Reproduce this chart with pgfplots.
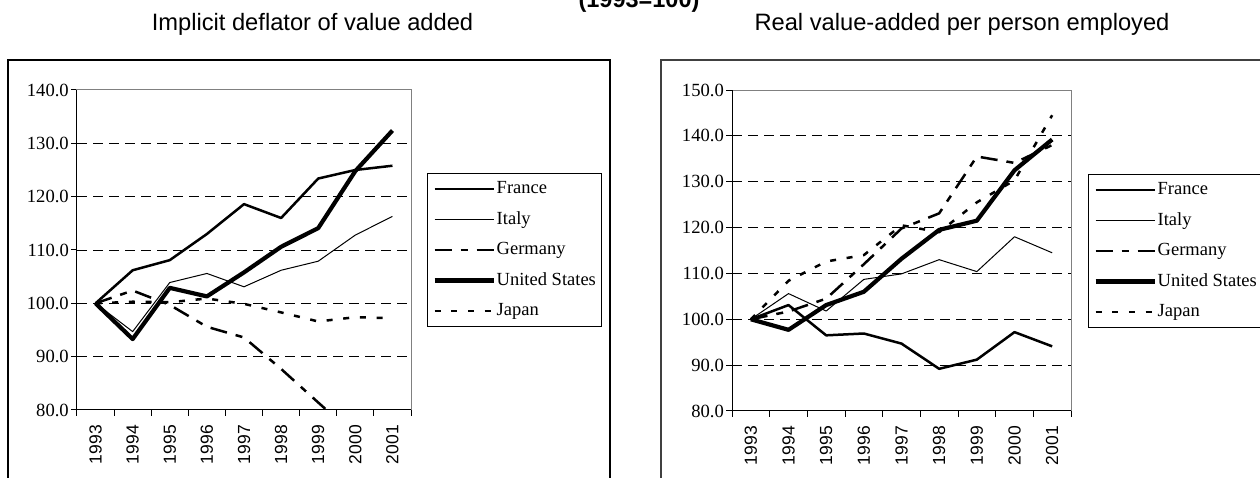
\documentclass[border=0pt]{standalone}
\usepackage{fontspec}
\setmainfont{Liberation Serif}
\newfontfamily\arial{Liberation Sans}
\usepackage{pgfplots}
\usepackage{pgfplotstable}
\pgfplotsset{compat=1.18}

\pgfplotstableread{
x France Italy Germany US Japan
0 100.0 100.0 100.0 100.0 100.0
1 106.2  94.7 102.4  93.3 100.3
2 108.1 103.9  99.7 102.9 100.2
3 113.0 105.6  95.6 101.3 100.9
4 118.6 103.1  93.6 105.8  99.9
5 116.0 106.2  87.7 110.6  98.3
6 123.4 107.9  81.4 114.1  96.6
7 125.0 112.8  75.2 124.8  97.4
8 125.8 116.3  74.0 132.4  97.2
}\leftdata

\pgfplotstableread{
x France Italy Germany US Japan
0 100.0 100.0 100.0 100.0 100.0
1 103.1 105.6 101.7  97.7 108.4
2  96.5 101.8 104.5 103.1 112.6
3  96.9 108.7 112.0 106.0 114.0
4  94.7 109.9 119.8 113.2 120.5
5  89.2 113.0 123.1 119.5 119.0
6  91.2 110.4 135.5 121.5 125.5
7  97.2 118.0 134.1 132.5 130.3
8  94.1 114.5 138.0 139.2 144.5
}\rightdata

\pgfplotsset{
  france/.style={black, line width=2.5pt, solid, line join=round},
  italy/.style={black, line width=1pt, solid, line join=round},
  germany/.style={black, line width=2.5pt, dash pattern=on 17pt off 9pt on 7pt off 9pt, line join=round},
  usa/.style={black, line width=4.2pt, solid, line join=round},
  japan/.style={black, line width=2.5pt, dash pattern=on 6pt off 10.7pt, line join=round},
  mychart/.style={
    scale only axis,
    clip mode=individual,
    xmin=-0.5, xmax=8.5,
    xtick={0,...,8},
    xticklabels={1993,1994,1995,1996,1997,1998,1999,2000,2001},
    major x tick style={draw=none},
    minor xtick={-0.5,0.5,...,8.5},
    minor tick length=6pt,
    major tick length=6pt,
    tick align=outside,
    tick pos=left,
    tick style={black, line width=1pt},
    xticklabel shift=9pt,
    yticklabel shift=2pt,
    x tick label style={rotate=90, anchor=east, inner sep=0pt, font=\arial\fontsize{17.5}{17.5}\selectfont},
    y tick label style={inner sep=0pt, font=\fontsize{18.6}{18.6}\selectfont},
    yticklabel style={/pgf/number format/.cd, fixed, fixed zerofill, precision=1, assume math mode=true},
    axis line style={draw=black!50, line width=1pt},
    grid style={dash pattern=on 10pt off 6pt, black, line width=0.8pt},
    extra y tick labels={},
    extra y tick style={grid=major, tick style={draw=none}},
    legend image code/.code={\draw[##1] (0pt,0pt) -- (59pt,0pt);},
    legend cell align=left,
    legend style={anchor=north west, draw=black, line width=1pt, fill=white,
      font=\fontsize{18.5}{20}\selectfont, inner xsep=5pt, inner ysep=6pt,
      row sep=11.5pt, nodes={inner sep=1pt, text height=13pt, text depth=4pt},
      /tikz/every even column/.append style={column sep=3pt}},
  }
}

\begin{document}
\begin{tikzpicture}[x=1pt,y=1pt]
\path[use as bounding box] (0,0) rectangle (1260,478);
\clip (0,0) rectangle (1260,478);

\node[anchor=base, font=\arial\bfseries\fontsize{23.5}{26}\selectfont] at (639,470) {(1993=100)};
\node[anchor=base, font=\arial\fontsize{23.7}{26}\selectfont] at (312.5,447) {Implicit deflator of value added};
\node[anchor=base, font=\arial\fontsize{23.7}{26}\selectfont] at (962,447) {Real value-added per person employed};

\draw[line width=1.2pt, black] (8,-5) rectangle (610,418);
\draw[line width=1.2pt, black!75] (661,-5) rectangle (1275,418);

\begin{axis}[mychart,
  at={(77pt,68pt)}, anchor=south west,
  width=334pt, height=320pt,
  ymin=80, ymax=140, ytick={80,90,...,140},
  extra y ticks={90,100,110,120,130},
  legend style={at={(1.048,0.7406)}}]
\addplot[france] table[x=x, y=France] {\leftdata};
\addplot[italy] table[x=x, y=Italy] {\leftdata};
\addplot[germany] table[x=x, y=Germany] {\leftdata};
\addplot[usa] table[x=x, y=US] {\leftdata};
\addplot[japan] table[x=x, y=Japan] {\leftdata};
\legend{France, Italy, Germany, United States, Japan}
\draw[black, line width=1pt] (rel axis cs:0,1) -- (rel axis cs:0,0) -- (rel axis cs:1,0);
\end{axis}

\begin{axis}[mychart,
  at={(732pt,67pt)}, anchor=south west,
  width=339pt, height=321pt,
  ymin=80, ymax=150, ytick={80,90,...,150},
  extra y ticks={90,100,110,120,130,140},
  legend style={at={(1.0501,0.7383)}}]
\addplot[france] table[x=x, y=France] {\rightdata};
\addplot[italy] table[x=x, y=Italy] {\rightdata};
\addplot[germany] table[x=x, y=Germany] {\rightdata};
\addplot[usa] table[x=x, y=US] {\rightdata};
\addplot[japan] table[x=x, y=Japan] {\rightdata};
\legend{France, Italy, Germany, United States, Japan}
\draw[black, line width=1pt] (rel axis cs:0,1) -- (rel axis cs:0,0) -- (rel axis cs:1,0);
\end{axis}
\end{tikzpicture}
\end{document}
